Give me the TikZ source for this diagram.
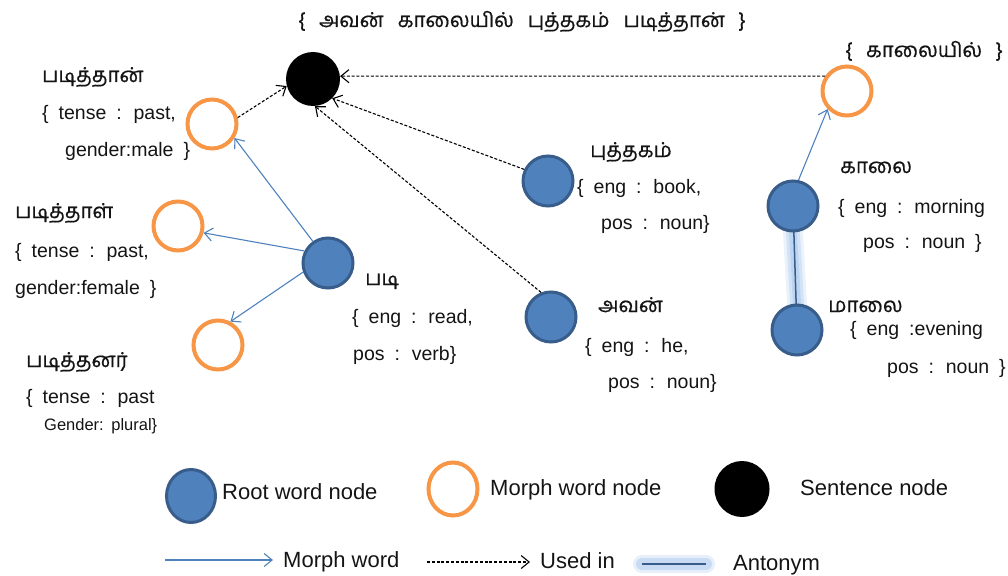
\documentclass[tikz,border=0pt]{standalone}
\usepackage{fontspec}
\setmainfont{Liberation Sans}
\newfontfamily\tamil[Script=Tamil, FakeBold=0.6]{Hind Madurai}
\usetikzlibrary{arrows.meta,shapes.geometric}
\pgfdeclarelayer{bg}
\pgfsetlayers{bg,main}
\definecolor{rootfill}{HTML}{4F81BD}
\definecolor{rootline}{HTML}{385D8A}
\definecolor{morphline}{HTML}{F79646}
\definecolor{glowblue}{HTML}{9CC0EA}
\definecolor{ink}{HTML}{141414}
\newcommand{\lblfont}{\fontsize{19.5}{22}\selectfont\spaceskip=10pt\relax}
\newcommand{\smallfont}{\fontsize{16.5}{19}\selectfont\spaceskip=6pt\relax}
\newcommand{\tamfont}{\tamil\fontsize{20.5}{24}\selectfont}
\newcommand{\titlefont}{\tamil\fontsize{20.5}{24}\selectfont\spaceskip=14pt\relax}
\newcommand{\legfont}{\fontsize{22}{26}\selectfont}
\tikzset{
  rootnode/.style={circle, fill=rootfill, draw=rootline, line width=3pt, minimum size=50pt, inner sep=0pt},
  morphnode/.style={circle, fill=white, draw=morphline, line width=4pt, minimum size=49pt, inner sep=0pt},
  sentnode/.style={circle, fill=black, minimum size=54pt, inner sep=0pt},
  lbl/.style={anchor=base west, inner sep=0pt, font=\lblfont, text=ink},
  tlbl/.style={anchor=base west, inner sep=0pt, font=\tamfont, text=ink},
  leglbl/.style={anchor=base west, inner sep=0pt, font=\legfont, text=ink},
  barb/.tip={Straight Barb[length=8pt,width=13pt,line width=1.1pt]},
  morpharrow/.style={draw=rootfill, line width=1.1pt, -barb},
  usedarrow/.style={draw=black, line width=1.1pt, dash pattern=on 3pt off 1.8pt, -barb},
  antonym/.style={draw=rootline, line width=1.5pt},
  glowA/.style={draw=glowblue, line width=20pt, opacity=0.2, line cap=round},
  glowB/.style={draw=glowblue, line width=14pt, opacity=0.3, line cap=round},
  glowC/.style={draw=glowblue, line width=8pt, opacity=0.4, line cap=round},
}
\begin{document}
\begin{tikzpicture}[x=1pt,y=-1pt]
\useasboundingbox (0,0) rectangle (1008,575);

% sentence
\node[tlbl, font=\titlefont, anchor=base] (title) at (522,27) {\{ அவன் காலையில் புத்தகம் படித்தான் \}};
\node[sentnode] (sent) at (313,79) {};

% word nodes
\node[morphnode] (m1) at (212,124) {};
\node[morphnode] (m2) at (178,226) {};
\node[morphnode] (m3) at (218,345) {};
\node[morphnode] (m4) at (847,91) {};
\node[rootnode] (r1) at (328,263) {};
\node[rootnode] (r2) at (548,181) {};
\node[rootnode] (r3) at (551,317) {};
\node[rootnode] (r4) at (793,206) {};
\node[rootnode] (r5) at (797,330) {};

% labels of the word nodes
\node[tlbl] (t1) at (42,82) {படித்தான்};
\node[lbl] (a1) at (42,119) {\{ tense : past,};
\node[lbl] (b1) at (65,156) {gender:male \}};
\node[tlbl] (t2) at (15,218) {படித்தாள்};
\node[lbl] (a2) at (15,257) {\{ tense : past,};
\node[lbl] (b2) at (15,294) {gender:female \}};
\node[tlbl] (t3) at (26,367) {படித்தனர்};
\node[lbl] (a3) at (26,403) {\{ tense : past};
\node[lbl, font=\smallfont] (b3) at (44,430) {Gender: plural\}};
\node[tlbl] (t4) at (365,285) {படி};
\node[lbl] (a4) at (352,323) {\{ eng : read,};
\node[lbl] (b4) at (353,360) {pos : verb\}};
\node[tlbl] (t5) at (590,157) {புத்தகம்};
\node[lbl] (a5) at (577,193) {\{ eng : book,};
\node[lbl] (b5) at (601,229) {pos : noun\}};
\node[tlbl] (t6) at (598,312) {அவன்};
\node[lbl] (a6) at (585,352) {\{ eng : he,};
\node[lbl] (b6) at (608,388) {pos : noun\}};
\node[tlbl, font=\titlefont] (t7) at (845,57) {\{ காலையில் \}};
\node[tlbl] (t8) at (840,173) {காலை};
\node[lbl] (a8) at (838,213) {\{ eng : morning};
\node[lbl] (b8) at (863,248) {pos : noun \}};
\node[tlbl] (t9) at (828,312) {மாலை};
\node[lbl] (a9) at (850,335) {\{ eng :evening};
\node[lbl] (b9) at (887,373) {pos : noun \}};

% morph word links
\draw[morpharrow] (r1.125) -- (m1.-32);
\draw[morpharrow] (r1.153) -- (m2.-15);
\draw[morpharrow] (r1.200) -- (m3.62);
\draw[morpharrow] (r4.78) -- (m4.223);

% used-in links
\draw[usedarrow] (m1.14) -- (sent.195);
\draw[usedarrow] (r2.154) -- (sent.-45);
\draw[usedarrow] (r3.112) -- (sent.-86);
\draw[usedarrow] (m4.146) -- (sent.6);

% antonym link
\begin{pgfonlayer}{bg}
  \draw[glowA] (r4.south) -- (r5.north);
  \draw[glowB] (r4.south) -- (r5.north);
  \draw[glowC] (r4.south) -- (r5.north);
  \draw[antonym] (r4.center) -- (r5.center);
\end{pgfonlayer}

% legend
\node[ellipse, fill=rootfill, draw=rootline, line width=3pt, minimum width=49pt, minimum height=53pt, inner sep=0pt] (lr) at (191,496) {};
\node[leglbl] (lrt) at (222,499) {Root word node};
\node[ellipse, fill=white, draw=morphline, line width=4pt, minimum width=49pt, minimum height=53pt, inner sep=0pt] (lm) at (453,489) {};
\node[leglbl] (lmt) at (490,495) {Morph word node};
\node[ellipse, fill=black, minimum width=55pt, minimum height=56pt, inner sep=0pt] (ls) at (742,489) {};
\node[leglbl] (lst) at (800,495) {Sentence node};

\coordinate (p1) at (165,560);
\coordinate (p2) at (273,560);
\draw[morpharrow] (p1) -- (p2);
\node[leglbl] (lp) at (283,567) {Morph word};
\coordinate (q1) at (427,562);
\coordinate (q2) at (530,562);
\draw[usedarrow] (q1) -- (q2);
\node[leglbl] (lq) at (540,568) {Used in};
\coordinate (s1) at (642,564);
\coordinate (s2) at (706,564);
\draw[draw=glowblue, line width=18pt, opacity=0.25, line cap=round] (s1) -- (s2);
\draw[draw=glowblue, line width=12pt, opacity=0.4, line cap=round] (s1) -- (s2);
\draw[antonym] (s1) -- (s2);
\node[leglbl] (ls2) at (733,570) {Antonym};
\end{tikzpicture}
\end{document}
